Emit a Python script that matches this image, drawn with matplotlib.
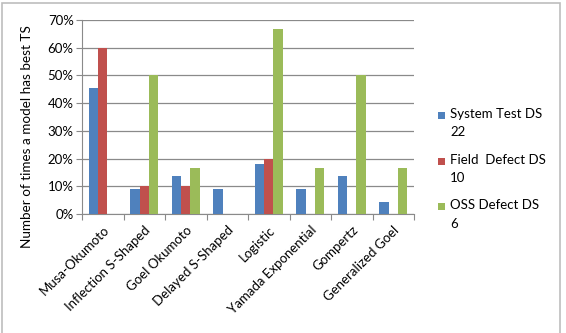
import matplotlib.pyplot as plt
import numpy as np
from matplotlib.patches import Rectangle

plt.rcParams['font.family'] = ['Lato', 'DejaVu Sans']

models = ['Musa-Okumoto', 'Inflection S-Shaped', 'Goel Okumoto', 'Delayed S-Shaped',
          'Logistic', 'Yamada Exponential', 'Gompertz', 'Generalized Goel']
system_test = [45.5, 9.1, 13.6, 9.1, 18.2, 9.1, 13.6, 4.5]
field_defect = [60.0, 10.0, 10.0, 0, 20.0, 0, 0, 0]
oss_defect = [0, 50.0, 16.7, 0, 66.7, 16.7, 50.0, 16.7]
series_names = ['System Test DS\n22', 'Field  Defect DS\n10', 'OSS Defect DS\n6']
colors = ['#4F81BD', '#C0504D', '#9BBB59']

W, H = 566, 333
fig = plt.figure(figsize=(W/100, H/100), dpi=100)
ax = fig.add_axes([82/W, 1-214/H, 332/W, 194/H])

pos = np.arange(len(models))
width = 1/4.5
for i, vals in enumerate([system_test, field_defect, oss_defect]):
    ax.bar(pos + (i-1)*width, vals, width, color=colors[i], zorder=3)

ax.set_xlim(-0.5, len(models)-0.5)
ax.set_ylim(0, 70)
ax.set_yticks(range(0, 71, 10))
ax.set_yticklabels([f'{v}%' for v in range(0, 71, 10)], fontsize=9.5)
ax.yaxis.grid(True, color='#8a8a8a', linewidth=0.9, zorder=0)
ax.tick_params(axis='y', length=4, color='#8a8a8a', pad=2)

# category boundaries as ticks, labels in centers
ax.set_xticks(np.arange(-0.5, len(models), 1))
ax.set_xticklabels([])
ax.set_xticks(pos, minor=True)
ax.set_xticklabels(models, minor=True, rotation=45, ha='right', rotation_mode='anchor', fontsize=9.5)
ax.tick_params(axis='x', which='major', length=4, color='#8a8a8a')
ax.tick_params(axis='x', which='minor', length=0, pad=7)

for s in ['top', 'right']:
    ax.spines[s].set_visible(False)
ax.spines['left'].set_color('#8a8a8a')
ax.spines['bottom'].set_color('#8a8a8a')

fig.text(27/W, 1-137/H, 'Number of times a model has best TS', rotation=90,
         ha='center', va='center', fontsize=9.7)

# legend drawn by hand so the marker sits on the first line
for i, name in enumerate(series_names):
    ytop = 108 + i*45.5
    fig.patches.append(Rectangle((438/W, 1-(ytop+11)/H), 7/W, 7/H, transform=fig.transFigure,
                                 facecolor=colors[i], edgecolor='none'))
    fig.text(450/W, 1-ytop/H, name, ha='left', va='top', fontsize=9.5, linespacing=1.65)

fig.patches.append(Rectangle((2/W, -0.1), 558/W, 1.1-3/H, transform=fig.transFigure,
                             fill=False, edgecolor='#bdbdbd', linewidth=1.2))

fig.savefig('out.png', dpi=100)
